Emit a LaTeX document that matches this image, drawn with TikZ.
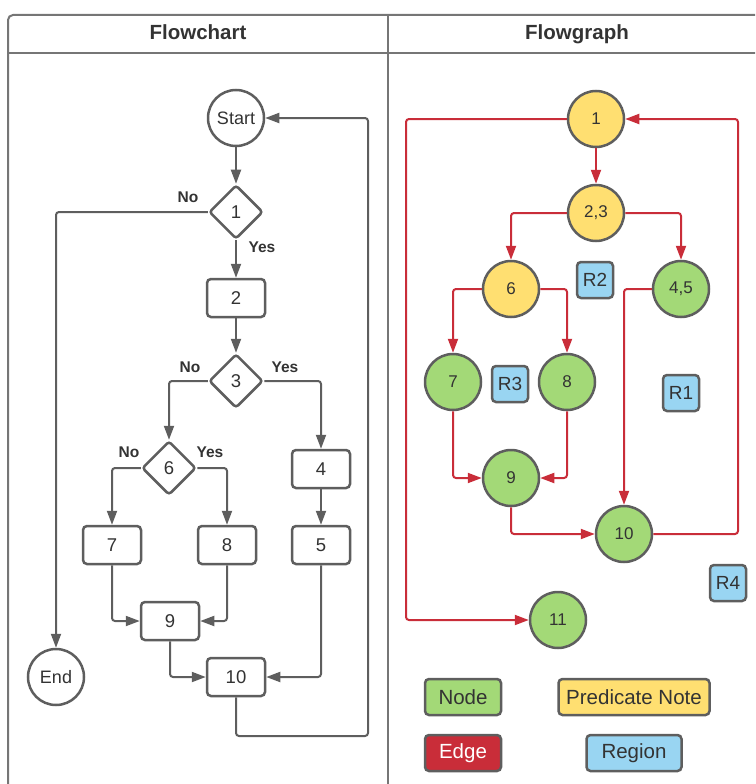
\documentclass[tikz,border=0pt]{standalone}
\usepackage{fontspec}
\setmainfont{Liberation Sans}
\usetikzlibrary{arrows.meta,shapes.geometric}
\definecolor{ln}{HTML}{5E5E5E}
\definecolor{tx}{HTML}{333333}
\definecolor{ed}{HTML}{C92D39}
\definecolor{yl}{HTML}{FFDF71}
\definecolor{gr}{HTML}{A3D977}
\definecolor{bl}{HTML}{99D5F2}
\newcommand\fsz[1]{\fontsize{#1}{#1}\selectfont}
\begin{document}
\begin{tikzpicture}[x=1pt,y=-1pt,
  panelline/.style={draw=ln!85, line width=2pt},
  head/.style={text=tx, font=\bfseries\fsz{20.5}, anchor=base},
  tip/.style={-{Triangle[length=14pt,width=10pt]}},
  flowline/.style={draw=ln, line width=2pt, rounded corners=3pt, tip},
  redline/.style={draw=ed, line width=2pt, rounded corners=3pt, tip},
  proc/.style={draw=ln, line width=2.5pt, fill=white, rounded corners=4pt,
    minimum width=58pt, minimum height=38pt, inner sep=0pt, text=tx, font=\fsz{18.5}},
  decis/.style={diamond, draw=ln, line width=2.5pt, fill=white, rounded corners=3pt,
    minimum width=54pt, minimum height=54pt, inner sep=0pt, aspect=1, text=tx, font=\fsz{18.5}},
  term/.style={circle, draw=ln, line width=2.5pt, fill=white, minimum size=56pt,
    inner sep=0pt, text=tx, font=\fsz{18}},
  yn/.style={text=tx, font=\bfseries\fsz{15.5}},
  gnode/.style={circle, draw=ln, line width=2.5pt, minimum size=56pt, inner sep=0pt,
    text=tx, font=\fsz{17}},
  prednode/.style={gnode, fill=yl},
  greennode/.style={gnode, fill=gr},
  regionbox/.style={draw=ln, line width=2.5pt, fill=bl, rounded corners=4pt,
    minimum size=36pt, inner sep=0pt, text=tx, font=\fsz{19}},
  keybox/.style={draw=ln, line width=2.5pt, rounded corners=4pt, minimum height=36pt,
    inner sep=0pt, text=tx, font=\fsz{20.5}}
]
\useasboundingbox (0,0) rectangle (755,784);
\clip (0,0) rectangle (755,784);

% panel frame
\draw[panelline, rounded corners=5pt] (8,800) -- (8,15) -- (790,15);
\draw[panelline] (8,53) -- (790,53);
\draw[panelline] (388,15) -- (388,800);
\node[head] (h1) at (198,40) {Flowchart};
\node[head] (h2) at (577,40) {Flowgraph};

% ---------- flowchart ----------
\node[term]  (start) at (236,118) {Start};
\node[decis] (d1) at (236,212) {1};
\node[proc]  (b2) at (236,298) {2};
\node[decis] (d3) at (236,381) {3};
\node[decis] (d6) at (169,468) {6};
\node[proc]  (b4) at (321,469) {4};
\node[proc]  (b5) at (321,545) {5};
\node[proc]  (b7) at (112,545) {7};
\node[proc]  (b8) at (227,545) {8};
\node[proc]  (b9) at (170,621) {9};
\node[proc]  (b10) at (236,677) {10};
\node[term]  (end) at (56,677) {End};
\coordinate (loopA) at (368,736);

\draw[flowline] (start) -- (d1);
\draw[flowline] (d1) -- (b2);
\draw[flowline] (b2) -- (d3);
\draw[flowline] (d3.west) -| (d6.north);
\draw[flowline] (d3.east) -| (b4.north);
\draw[flowline] (d6.west) -| (b7.north);
\draw[flowline] (d6.east) -| (b8.north);
\draw[flowline] (b4) -- (b5);
\draw[flowline] (b7.south) |- (b9.west);
\draw[flowline] (b8.south) |- (b9.east);
\draw[flowline] (b9.south) |- (b10.west);
\draw[flowline] (b5.south) |- (b10.east);
\draw[flowline] (b10.south) |- (loopA) |- (start.east);
\draw[flowline] (d1.west) -| (end.north);

\node[yn] (n1no) at (188,197) {No};
\node[yn] (n1yes) at (262,247) {Yes};
\node[yn] (n3no) at (190,367) {No};
\node[yn] (n3yes) at (285,367) {Yes};
\node[yn] (n6no) at (129,452) {No};
\node[yn] (n6yes) at (210,452) {Yes};

% ---------- flowgraph ----------
\node[prednode]  (g1)  at (596,119) {1};
\node[prednode]  (g23) at (596,213) {2,3};
\node[prednode]  (g6)  at (511,289) {6};
\node[greennode] (g45) at (681,289) {4,5};
\node[greennode] (g7)  at (453,382) {7};
\node[greennode] (g8)  at (567,382) {8};
\node[greennode] (g9)  at (511,478) {9};
\node[greennode] (g10) at (624,534) {10};
\node[greennode] (g11) at (558,620) {11};

\node[regionbox] (r2) at (595,280) {R2};
\node[regionbox] (r3) at (510,384) {R3};
\node[regionbox] (r1) at (681,393) {R1};
\node[regionbox] (r4) at (728,583) {R4};

\coordinate (rgt) at (738,0);
\coordinate (lft) at (406,0);

\draw[redline] (g1) -- (g23);
\draw[redline] (g23.west) -| (g6.north);
\draw[redline] (g23.east) -| (g45.north);
\draw[redline] (g6.west) -| (g7.north);
\draw[redline] (g6.east) -| (g8.north);
\draw[redline] (g7.south) |- (g9.west);
\draw[redline] (g8.south) |- (g9.east);
\draw[redline] (g9.south) |- (g10.west);
\draw[redline] (g45.west) -| (g10.north);
\draw[redline] (g10.east) -- (g10.east -| rgt) |- (g1.east);
\draw[redline] (g1.west) -- (g1.west -| lft) |- (g11.west);

% key
\node[keybox, fill=gr, minimum width=76pt] (k1) at (463,697) {Node};
\node[keybox, fill=yl, minimum width=151pt] (k2) at (634,697) {Predicate Note};
\node[keybox, fill=ed, text=white, minimum width=76pt] (k3) at (463,753) {Edge};
\node[keybox, fill=bl, minimum width=95pt] (k4) at (634,753) {Region};
\end{tikzpicture}
\end{document}
